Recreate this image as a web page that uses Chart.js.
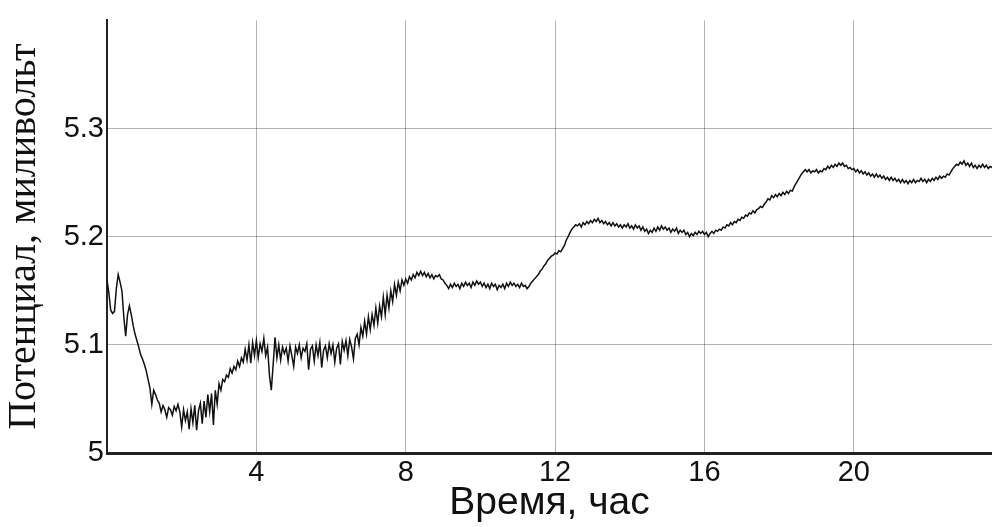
<!DOCTYPE html>
<html lang="ru">
<head>
<meta charset="utf-8">
<title>Потенциал</title>
<script src="https://cdn.jsdelivr.net/npm/chart.js@4.4.1/dist/chart.umd.min.js"></script>
<style>
    html, body { margin: 0; padding: 0; background: #fff; }
    .grafico { width: 992px; height: 527px; }
</style>
</head>
<body>
<div class="grafico"><canvas id="myChart"></canvas></div>
<script>
// Registro: um valor a cada 0.05 hora, começando em 0 h
const horaInicial = 0;
const passoHoras = 0.05;

// Potencial (mV), uma linha por hora
const potencial = [
    5.160, 5.148, 5.132, 5.129, 5.131, 5.152, 5.165, 5.158, 5.150, 5.126, 5.108, 5.128, 5.136, 5.128, 5.118, 5.110, 5.104, 5.098, 5.091, 5.087,
    5.082, 5.076, 5.068, 5.060, 5.045, 5.058, 5.054, 5.049, 5.046, 5.038, 5.044, 5.040, 5.033, 5.042, 5.040, 5.035, 5.043, 5.039, 5.045, 5.038,
    5.024, 5.040, 5.030, 5.038, 5.022, 5.041, 5.028, 5.044, 5.021, 5.039, 5.046, 5.027, 5.048, 5.033, 5.054, 5.038, 5.055, 5.026, 5.058, 5.045,
    5.064, 5.058, 5.068, 5.066, 5.072, 5.070, 5.078, 5.074, 5.080, 5.077, 5.085, 5.080, 5.088, 5.084, 5.096, 5.086, 5.100, 5.083, 5.102, 5.090,
    5.104, 5.088, 5.101, 5.094, 5.106, 5.090, 5.098, 5.072, 5.058, 5.082, 5.107, 5.088, 5.100, 5.086, 5.098, 5.092, 5.097, 5.085, 5.099, 5.090,
    5.080, 5.098, 5.092, 5.100, 5.088, 5.097, 5.094, 5.101, 5.077, 5.096, 5.099, 5.085, 5.100, 5.090, 5.102, 5.079, 5.095, 5.099, 5.088, 5.101,
    5.092, 5.100, 5.084, 5.097, 5.101, 5.082, 5.103, 5.095, 5.104, 5.090, 5.105, 5.098, 5.087, 5.106, 5.110, 5.100, 5.116, 5.108, 5.122, 5.110,
    5.126, 5.114, 5.128, 5.118, 5.134, 5.120, 5.136, 5.126, 5.144, 5.128, 5.146, 5.134, 5.150, 5.140, 5.156, 5.146, 5.158, 5.150, 5.160, 5.155,
    5.161, 5.157, 5.163, 5.160, 5.165, 5.162, 5.167, 5.164, 5.168, 5.164, 5.167, 5.163, 5.166, 5.162, 5.165, 5.161, 5.164, 5.163, 5.165, 5.161,
    5.160, 5.157, 5.155, 5.152, 5.156, 5.153, 5.157, 5.154, 5.156, 5.152, 5.157, 5.154, 5.158, 5.155, 5.157, 5.153, 5.158, 5.155, 5.159, 5.156,
    5.158, 5.154, 5.157, 5.153, 5.156, 5.152, 5.157, 5.154, 5.156, 5.151, 5.155, 5.153, 5.156, 5.152, 5.157, 5.154, 5.158, 5.155, 5.157, 5.154,
    5.156, 5.153, 5.157, 5.154, 5.155, 5.152, 5.154, 5.157, 5.159, 5.161, 5.163, 5.165, 5.168, 5.170, 5.173, 5.175, 5.178, 5.180, 5.182, 5.183,
    5.185, 5.184, 5.187, 5.186, 5.189, 5.192, 5.197, 5.200, 5.204, 5.207, 5.209, 5.211, 5.210, 5.212, 5.209, 5.213, 5.211, 5.214, 5.212, 5.215,
    5.213, 5.216, 5.214, 5.217, 5.213, 5.215, 5.212, 5.214, 5.211, 5.213, 5.210, 5.213, 5.210, 5.212, 5.209, 5.211, 5.208, 5.211, 5.209, 5.212,
    5.208, 5.210, 5.207, 5.211, 5.208, 5.210, 5.206, 5.209, 5.205, 5.207, 5.203, 5.206, 5.204, 5.208, 5.205, 5.209, 5.206, 5.210, 5.207, 5.209,
    5.206, 5.208, 5.204, 5.207, 5.205, 5.208, 5.203, 5.206, 5.204, 5.206, 5.202, 5.204, 5.200, 5.203, 5.201, 5.204, 5.202, 5.205, 5.203, 5.205,
    5.202, 5.204, 5.200, 5.203, 5.205, 5.203, 5.206, 5.205, 5.207, 5.206, 5.209, 5.208, 5.211, 5.210, 5.213, 5.211, 5.214, 5.213, 5.216, 5.215,
    5.218, 5.217, 5.220, 5.219, 5.222, 5.221, 5.224, 5.222, 5.225, 5.226, 5.228, 5.227, 5.230, 5.232, 5.235, 5.234, 5.238, 5.236, 5.239, 5.237,
    5.240, 5.238, 5.241, 5.239, 5.242, 5.240, 5.243, 5.242, 5.246, 5.249, 5.252, 5.255, 5.258, 5.260, 5.262, 5.260, 5.262, 5.259, 5.261, 5.260,
    5.262, 5.259, 5.261, 5.260, 5.263, 5.262, 5.265, 5.263, 5.266, 5.264, 5.267, 5.265, 5.268, 5.266, 5.268, 5.265, 5.266, 5.263, 5.264, 5.262,
    5.263, 5.260, 5.262, 5.259, 5.261, 5.258, 5.260, 5.257, 5.259, 5.256, 5.258, 5.255, 5.258, 5.255, 5.257, 5.254, 5.256, 5.253, 5.255, 5.252,
    5.255, 5.252, 5.254, 5.251, 5.253, 5.250, 5.253, 5.250, 5.252, 5.249, 5.252, 5.250, 5.253, 5.250, 5.252, 5.251, 5.254, 5.251, 5.253, 5.250,
    5.253, 5.251, 5.254, 5.252, 5.255, 5.253, 5.256, 5.254, 5.256, 5.255, 5.258, 5.257, 5.260, 5.263, 5.265, 5.267, 5.266, 5.269, 5.267, 5.270,
    5.266, 5.268, 5.265, 5.268, 5.264, 5.266, 5.263, 5.266, 5.264, 5.267, 5.264, 5.266, 5.263, 5.265, 5.264
];

// Rótulos que aparecem nos eixos
const rotulosX = [4, 8, 12, 16, 20];
const rotulosY = [5, 5.1, 5.2, 5.3];

const tituloX = 'Время, час';
const tituloY = 'Потенциал, миливольт';

function criaGrafico() {

    const pontos = potencial.map((valor, i) => ({
        x: +(horaInicial + i * passoHoras).toFixed(2),
        y: valor
    }));

    const data = {
        datasets: [{
            data: pontos,
            borderColor: '#111',
            borderWidth: 1.5,
            pointRadius: 0,
            tension: 0,
            fill: false
        }]
    };

    const config = {
        type: 'line',
        data: data,
        options: {
            responsive: true,
            maintainAspectRatio: false,
            animation: false,
            layout: { padding: { top: 18, right: 0, bottom: 0, left: 0 } },
            plugins: {
                legend: { display: false },
                tooltip: { enabled: false }
            },
            scales: {
                x: {
                    type: 'linear',
                    min: 0,
                    max: 23.7,
                    afterFit: (escala) => { escala.height = 74; },
                    border: { color: '#222', width: 3 },
                    grid: {
                        drawTicks: false,
                        color: (c) => (Math.abs(c.tick.value % 2) < 1e-6 ? 'rgba(0,0,0,0.3)' : 'rgba(0,0,0,0)'),
                        lineWidth: 1
                    },
                    ticks: {
                        stepSize: 2,
                        includeBounds: false,
                        autoSkip: false,
                        maxRotation: 0,
                        padding: 3,
                        color: '#111',
                        font: { family: 'Liberation Sans', size: 29 },
                        callback: (valor) => (rotulosX.includes(valor) ? String(valor) : null)
                    },
                    title: {
                        display: true,
                        text: tituloX,
                        color: '#111',
                        font: { family: 'Liberation Sans', size: 39 },
                        padding: { top: 0, bottom: 0 }
                    }
                },
                y: {
                    min: 5,
                    max: 5.4,
                    afterFit: (escala) => { escala.width = 107; },
                    border: { color: '#222', width: 2 },
                    grid: {
                        drawTicks: false,
                        color: (c) => (Math.abs(c.tick.value - 5.4) < 1e-6 ? '#333' : 'rgba(0,0,0,0.3)'),
                        lineWidth: (c) => (Math.abs(c.tick.value - 5.4) < 1e-6 ? 3 : 1)
                    },
                    ticks: {
                        stepSize: 0.1,
                        padding: 3,
                        color: '#111',
                        font: { family: 'Liberation Sans', size: 29 },
                        callback: (valor) => {
                            const v = Math.round(valor * 10) / 10;
                            return rotulosY.includes(v) ? String(v) : null;
                        }
                    },
                    title: {
                        display: true,
                        text: tituloY,
                        color: '#111',
                        font: { family: 'Liberation Serif', size: 40 },
                        padding: { top: 0, bottom: 0 }
                    }
                }
            }
        }
    };

    return new Chart(document.getElementById('myChart'), config);
}

const myChart = criaGrafico();
</script>
</body>
</html>
